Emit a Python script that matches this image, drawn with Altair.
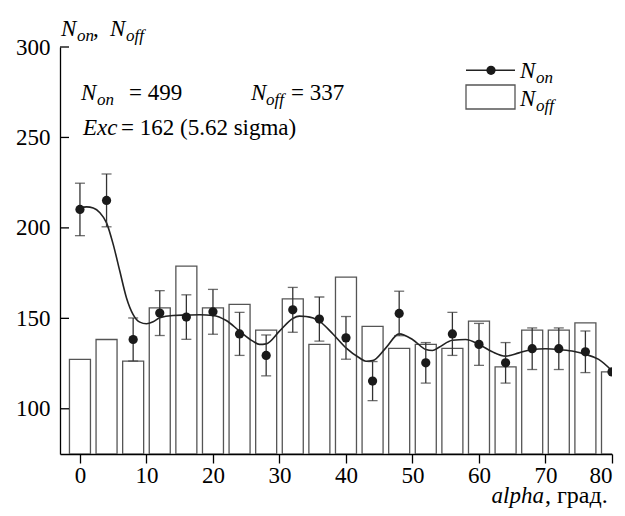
import altair as alt
import pandas as pd

FONT = "Liberation Serif"

# ---- data ----
alpha = [0, 4, 8, 12, 16, 20, 24, 28, 32, 36, 40, 44, 48, 52, 56, 60, 64, 68, 72, 76, 80]
n_on = [210.2, 215.2, 138.3, 152.9, 150.7, 153.6, 141.4, 129.5, 154.7, 149.6, 139.2,
        115.3, 152.7, 125.4, 141.4, 135.6, 125.4, 133.2, 133.2, 131.5, 120.4]
n_off = [127.3, 138.3, 126.3, 155.8, 178.9, 155.8, 157.7, 143.5, 160.8, 135.6, 172.8,
         145.5, 133.4, 135.6, 133.4, 148.5, 123.2, 143.5, 143.5, 147.5, 120.4]
# error bars (the point at 80 has none visible)
err_alpha = [0, 4, 8, 12, 16, 20, 24, 28, 32, 36, 40, 44, 48, 52, 56, 60, 64, 68, 72, 76]
err_center = [210.2, 215.2, 138.3, 152.9, 150.7, 153.6, 141.4, 129.5, 154.7, 149.6, 139.2,
              115.3, 152.7, 125.4, 141.4, 135.6, 125.4, 133.2, 133.2, 131.5]
err_half = [14.5, 14.6, 11.9, 12.4, 12.3, 12.4, 11.9, 11.3, 12.4, 12.2, 11.8,
            10.8, 12.3, 11.2, 11.9, 11.6, 11.2, 11.5, 11.5, 11.5]

curve_x = [0, 1, 2, 3, 4, 5, 6, 7, 8, 9, 10, 11, 12, 14, 16, 18, 20, 22, 24, 26, 27, 28,
           30, 32, 33, 34, 36, 38, 40, 42, 43, 44, 46, 48, 50, 52, 53, 54, 56, 58, 60,
           62, 64, 66, 68, 70, 72, 74, 76, 78, 80]
curve_y = [211.1, 211.6, 211.0, 208.4, 202.8, 190.9, 176.0, 161.3, 152.1, 147.9, 147.0,
           148.1, 150.3, 151.6, 151.8, 152.0, 151.6, 148.8, 142.9, 137.4, 135.6, 135.9,
           142.9, 149.9, 151.2, 151.0, 148.5, 141.5, 133.7, 128.2, 126.3, 126.6, 133.7,
           141.4, 138.3, 132.8, 132.2, 134.0, 137.9, 138.3, 135.6, 131.5, 129.1, 130.9,
           132.8, 133.2, 132.8, 131.9, 130.1, 127.3, 121.0]

y_ticks = [100, 150, 200, 250, 300]
x_ticks = [0, 10, 20, 30, 40, 50, 60, 70, 80]

points = pd.DataFrame({"alpha": alpha, "n_on": n_on, "n_off": n_off})
errs = pd.DataFrame({"alpha": err_alpha, "c": err_center, "e": err_half})
errs["lo"] = errs["c"] - errs["e"]
errs["hi"] = errs["c"] + errs["e"]
curve = pd.DataFrame({"x": curve_x, "y": curve_y})
ticks = pd.DataFrame({"t": y_ticks})
one = pd.DataFrame({"a": [0]})

xscale = alt.Scale(domain=[-3, 80], nice=False, zero=False, padding=0)
yscale = alt.Scale(domain=[75, 300], nice=False, zero=False, padding=0)

X = alt.X("alpha:Q", scale=xscale, title=None,
          axis=alt.Axis(values=x_ticks, grid=False, domainColor="black", domainWidth=1.3,
                        tickColor="black", tickSize=9, tickWidth=1.3, labelFont=FONT,
                        labelFontSize=23, labelPadding=1, format="d"))
Y = alt.Y("n_off:Q", scale=yscale, title=None,
          axis=alt.Axis(values=y_ticks, grid=False, domainColor="black", domainWidth=1.3,
                        ticks=False, labelFont=FONT, labelFontSize=23,
                        labelPadding=10, format="d"))

bars = alt.Chart(points).mark_bar(size=21, fill="white", stroke="#555", strokeWidth=1.3,
                                  clip=True).encode(x=X, y=Y, y2=alt.datum(75))

line = alt.Chart(curve).mark_line(interpolate="monotone", color="#222", strokeWidth=1.6,
                                  clip=True).encode(
    x=alt.X("x:Q", scale=xscale), y=alt.Y("y:Q", scale=yscale))

err_rule = alt.Chart(errs).mark_rule(color="#333", strokeWidth=1.3, clip=True).encode(
    x=alt.X("alpha:Q", scale=xscale), y=alt.Y("lo:Q", scale=yscale), y2="hi:Q")
cap_lo = alt.Chart(errs).mark_tick(orient="horizontal", size=10, thickness=1.3,
                                   color="#333", clip=True).encode(
    x=alt.X("alpha:Q", scale=xscale), y=alt.Y("lo:Q", scale=yscale))
cap_hi = alt.Chart(errs).mark_tick(orient="horizontal", size=10, thickness=1.3,
                                   color="#333", clip=True).encode(
    x=alt.X("alpha:Q", scale=xscale), y=alt.Y("hi:Q", scale=yscale))

dots = alt.Chart(points).mark_circle(size=85, color="#1a1a1a", opacity=1,
                                     clip=True).encode(
    x=alt.X("alpha:Q", scale=xscale), y=alt.Y("n_on:Q", scale=yscale))

# inward y ticks
yt = alt.Chart(ticks).mark_rule(color="black", strokeWidth=1.3).encode(
    y=alt.Y("t:Q", scale=yscale), x=alt.value(0), x2=alt.value(9))

# invisible frame mark fixing the chart's outer top-left corner
frame = alt.Chart(one).mark_rule(color="white", opacity=0, strokeWidth=0.01).encode(
    x=alt.value(-51), x2=alt.value(-50), y=alt.value(-38))


def txt(s, x, y, size=23, italic=False, align="left"):
    kw = dict(text=s, x=x, y=y, font=FONT, fontSize=size, align=align,
              baseline="alphabetic")
    if italic:
        kw["fontStyle"] = "italic"
    return alt.Chart(one).mark_text(**kw)


texts = [
    # y title
    txt("N", 1, -11, italic=True),
    txt("on", 17, -6, size=17, italic=True),
    txt(",", 33, -11),
    txt("N", 50, -11, italic=True),
    txt("off", 66, -6, size=17, italic=True),
    # annotation
    txt("N", 21, 53, italic=True),
    txt("on", 37, 58, size=17, italic=True),
    txt("= 499", 69, 53),
    txt("N", 191, 53, italic=True),
    txt("off", 206, 58, size=17, italic=True),
    txt("= 337", 231, 53),
    txt("Exc", 23, 88, italic=True),
    txt("= 162 (5.62 sigma)", 61, 88),
    # legend text
    txt("N", 460, 31, italic=True),
    txt("on", 476, 36, size=17, italic=True),
    txt("N", 460, 59, italic=True),
    txt("off", 476, 64, size=17, italic=True),
    # x title
    txt("alpha", 484, 456, italic=True, align="right"),
    txt(", град.", 485, 456, size=24),
]

leg_line = alt.Chart(one).mark_rule(color="#222", strokeWidth=1.5).encode(
    x=alt.value(406), x2=alt.value(455), y=alt.value(23.3))
leg_dot = alt.Chart(one).mark_circle(size=85, color="#1a1a1a", opacity=1).encode(
    x=alt.value(431), y=alt.value(23.3))
leg_rect = alt.Chart(one).mark_rect(fill="white", stroke="#555", strokeWidth=1.3).encode(
    x=alt.value(406), x2=alt.value(455), y=alt.value(38), y2=alt.value(62))

panel = alt.layer(
    bars, line, err_rule, cap_lo, cap_hi, dots, yt, leg_line, leg_dot, leg_rect, frame,
    *texts
).properties(
    width=552, height=407,
    view=alt.ViewBackground(stroke="transparent"),
)

chart = alt.vconcat(panel).properties(padding=0)

chart.save("out.html", embed_options={"renderer": "svg", "actions": False})
